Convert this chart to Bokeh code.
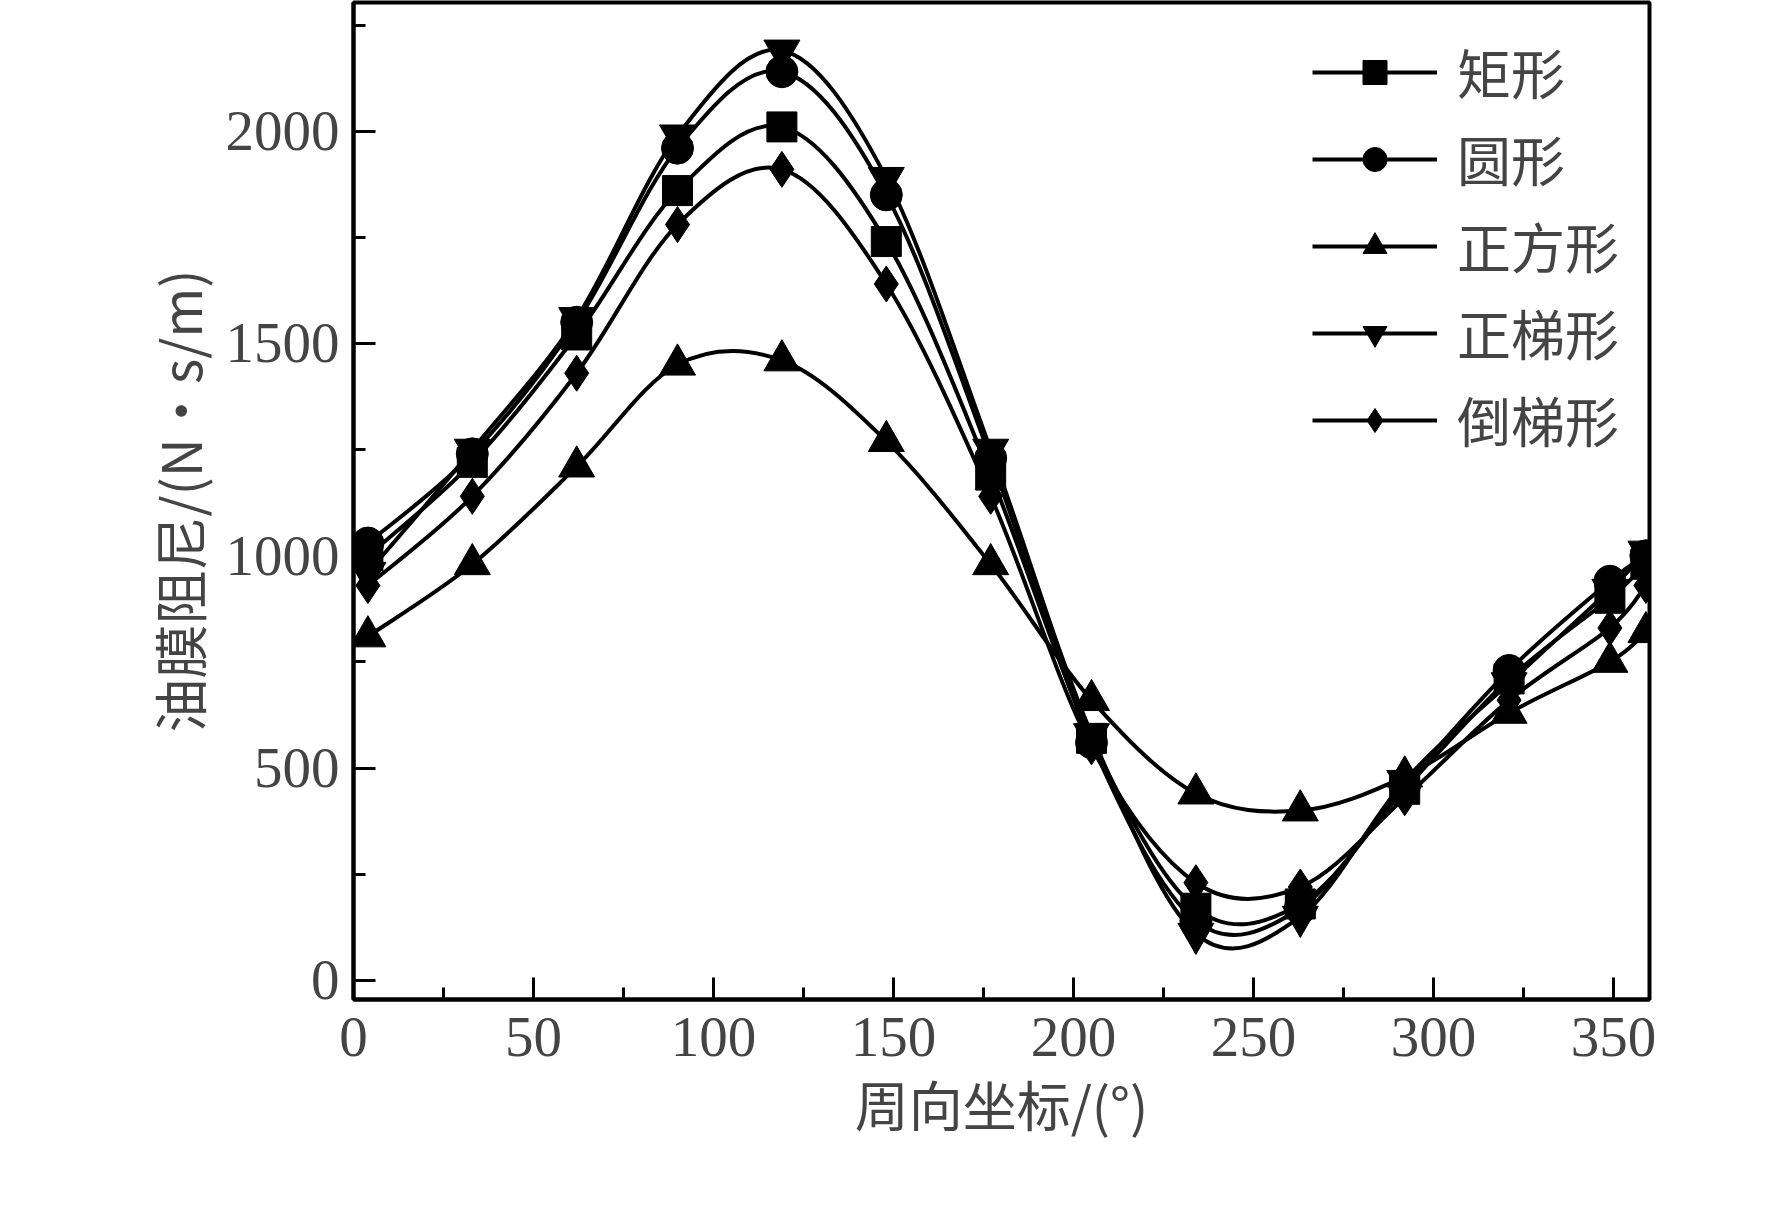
import numpy as np
from bokeh.plotting import figure
from bokeh.models import Range1d, FixedTicker, Legend, LegendItem
from bokeh.embed import file_html
from bokeh.resources import INLINE

angle = [4, 33, 62, 90, 119, 148, 177, 205, 234, 263, 292, 321, 349, 359]
rect = [1000, 1220, 1520, 1860, 2010, 1740, 1190, 570, 170, 180, 450, 710, 900, 980]
circ = [1030, 1240, 1550, 1960, 2140, 1850, 1230, 560, 140, 170, 460, 730, 940, 1000]
square = [810, 980, 1210, 1450, 1460, 1270, 980, 660, 440, 400, 480, 630, 750, 820]
trap = [960, 1250, 1560, 1990, 2190, 1890, 1250, 580, 110, 150, 470, 700, 920, 1010]
invtrap = [930, 1140, 1430, 1780, 1910, 1640, 1140, 550, 230, 220, 430, 660, 830, 930]
names = ["矩形", "圆形", "正方形", "正梯形", "倒梯形"]
markers = ["square", "circle", "triangle", "inverted_triangle", "diamond"]
sizes = [30, 32, 36, 36, 36]
series = [rect, circ, square, trap, invtrap]

p = figure(width=1756, height=1189, output_backend="svg", toolbar_location=None,
           x_range=Range1d(0, 360), y_range=Range1d(-45, 2303))
p.min_border_left = 353; p.min_border_right = 107; p.min_border_top = 2; p.min_border_bottom = 190
p.grid.visible = False
p.outline_line_color = "black"; p.outline_line_width = 4

for ax in (p.xaxis[0], p.yaxis[0]):
    ax.axis_line_width = 4
    ax.major_tick_line_width = 3; ax.minor_tick_line_width = 3
    ax.major_tick_in = 22; ax.major_tick_out = 0
    ax.minor_tick_in = 12; ax.minor_tick_out = 0
    ax.major_label_text_font = "Liberation Serif"
    ax.major_label_text_font_size = "57px"
    ax.axis_label_text_font = "Noto Sans CJK SC"
    ax.axis_label_text_font_size = "54px"
    ax.axis_label_text_font_style = "normal"
p.xaxis[0].ticker = FixedTicker(ticks=list(range(0, 351, 50)), minor_ticks=list(range(25, 360, 50)))
p.yaxis[0].ticker = FixedTicker(ticks=list(range(0, 2001, 500)), minor_ticks=list(range(250, 2300, 500)))
p.xaxis[0].axis_label = "周向坐标/(°)"
p.yaxis[0].axis_label = "油膜阻尼/(N·s/m)"
p.xaxis[0].major_label_standoff = 18
p.yaxis[0].major_label_standoff = 14

items = []
for name, mk, sz, ys in zip(names, markers, sizes, series):
    x = np.array(angle, float); y = np.array(ys, float)
    xp = np.concatenate([[x[0]], x, [x[-1]]]); yp = np.concatenate([[y[0]], y, [y[-1]]])
    n = len(x)
    x0 = x[:-1]; y0 = y[:-1]; x1 = x[1:]; y1 = y[1:]
    cx0 = x0 + (xp[2:n+1] - xp[0:n-1]) / 6; cy0 = y0 + (yp[2:n+1] - yp[0:n-1]) / 6
    cx1 = x1 - (xp[3:n+2] - xp[1:n]) / 6; cy1 = y1 - (yp[3:n+2] - yp[1:n]) / 6
    p.bezier(x0=x0, y0=y0, x1=x1, y1=y1, cx0=cx0, cy0=cy0, cx1=cx1, cy1=cy1,
             line_color="black", line_width=4)
    lr = p.line(x[:1], y[:1], line_color="black", line_width=4)
    sr = p.scatter(x, y, marker=mk, size=sz, fill_color="black", line_color="black")
    items.append(LegendItem(label=name, renderers=[lr, sr]))

leg = Legend(items=items, location="top_right", border_line_alpha=0, background_fill_alpha=0,
             label_text_font="Noto Sans CJK SC", label_text_font_size="54px",
             glyph_width=125, glyph_height=60, spacing=8, label_standoff=20,
             margin=20, padding=10)
p.add_layout(leg)

open("out.html", "w").write(file_html(p, INLINE))
